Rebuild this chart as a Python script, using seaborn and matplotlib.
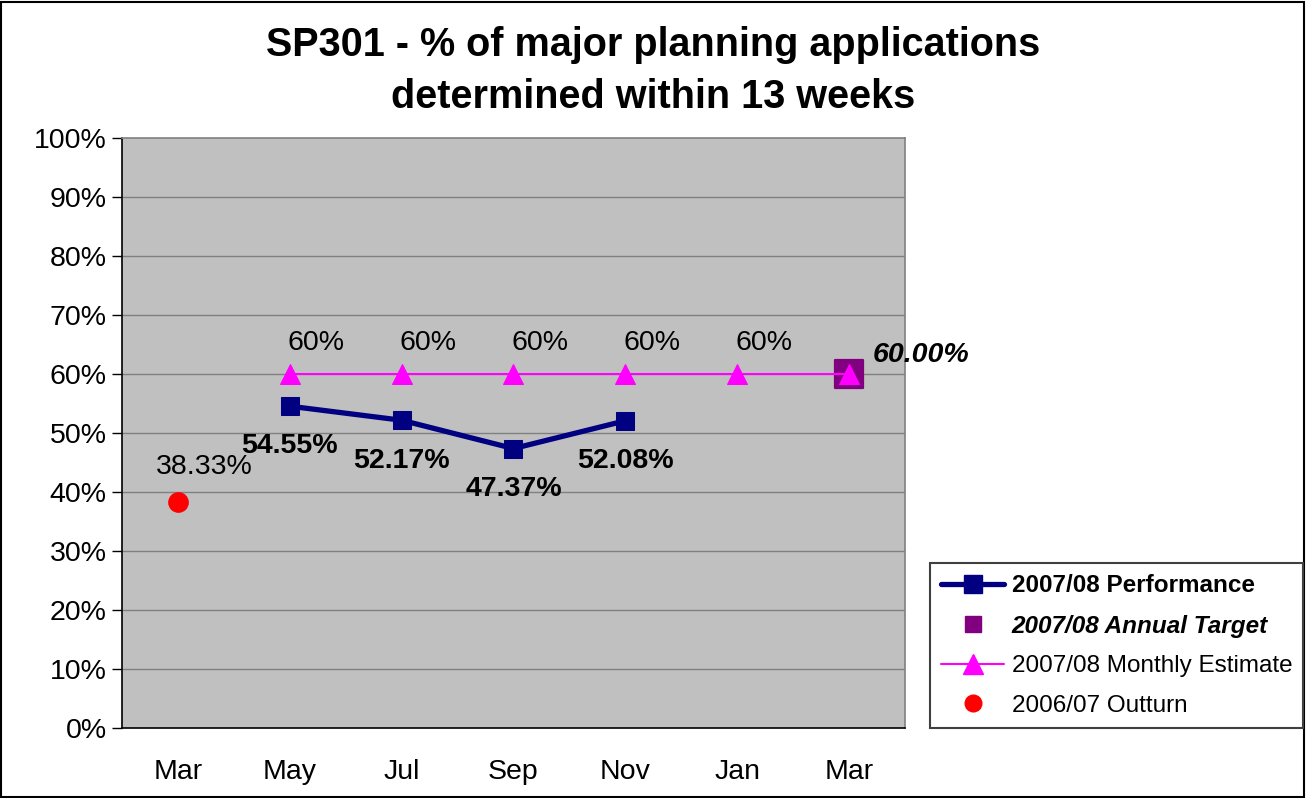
import numpy as np
import pandas as pd
import matplotlib
matplotlib.use("Agg")
import matplotlib.pyplot as plt
from matplotlib.patches import Rectangle
from matplotlib.lines import Line2D
import seaborn as sns

# chart data
months = ["Mar", "May", "Jul", "Sep", "Nov", "Jan", "Mar"]
performance = [np.nan, 54.55, 52.17, 47.37, 52.08, np.nan, np.nan]
monthly_estimate = [np.nan, 60, 60, 60, 60, 60, 60]
annual_target = [np.nan, np.nan, np.nan, np.nan, np.nan, np.nan, 60.00]
outturn = [38.33, np.nan, np.nan, np.nan, np.nan, np.nan, np.nan]

df = pd.DataFrame({
    "pos": range(len(months)),
    "month": months,
    "performance": performance,
    "estimate": monthly_estimate,
    "target": annual_target,
    "outturn": outturn,
})

sns.set_style("white", {"axes.facecolor": "#C0C0C0", "text.color": "black",
                        "xtick.color": "black", "ytick.color": "black"})
plt.rcParams["font.family"] = ["Liberation Sans", "DejaVu Sans"]

fig = plt.figure(figsize=(13.07, 7.98), dpi=100)
ax = fig.add_axes([0.0933, 0.0877, 0.5991, 0.7393])

# horizontal gridlines
for v in range(10, 100, 10):
    ax.axhline(v, color="#808080", lw=1, zorder=1)

sns.scatterplot(data=df, x="pos", y="outturn", ax=ax, color="red", marker="o",
                s=190, edgecolor="red", zorder=3)
sns.scatterplot(data=df, x="pos", y="target", ax=ax, color="#800080", marker="s",
                s=400, edgecolor="#800080", zorder=3)
sns.lineplot(data=df, x="pos", y="estimate", ax=ax, color="#FF00FF", lw=1.5,
             marker="^", markersize=15, markeredgecolor="#FF00FF", zorder=4)
sns.lineplot(data=df, x="pos", y="performance", ax=ax, color="#000080", lw=3.8,
             marker="s", markersize=13, markeredgecolor="#000080", zorder=5)

# data labels
lbl = dict(textcoords="offset points", fontsize=20.5, va="center", color="black")
for i, v in enumerate(monthly_estimate[:-1]):
    if not np.isnan(v):
        ax.annotate(f"{v:.0f}%", (i, v), xytext=(19, 22), ha="center", **lbl)
for i, v in enumerate(performance):
    if not np.isnan(v):
        ax.annotate(f"{v:.2f}%", (i, v), xytext=(0, -29), ha="center",
                    fontweight="bold", **lbl)
ax.annotate(f"{outturn[0]:.2f}%", (0, outturn[0]), xytext=(19, 25), ha="center", **lbl)
ax.annotate(f"{annual_target[6]:.2f}%", (6, annual_target[6]), xytext=(17, 14),
            ha="left", fontweight="bold", fontstyle="italic", annotation_clip=False, **lbl)

ax.set_xlim(-0.5, 6.5)
ax.set_ylim(0, 100)
ax.set_yticks(range(0, 101, 10))
ax.set_yticklabels([f"{v}%" for v in range(0, 101, 10)], fontsize=20.5)
ax.set_xticks(range(len(months)))
ax.set_xticklabels(months, fontsize=20.5)
ax.set_xticks(np.arange(-0.5, 7, 1), minor=True)
ax.tick_params(axis="x", which="major", length=0, pad=22)
ax.tick_params(axis="x", which="minor", length=8, width=1, color="black", direction="out")
ax.tick_params(axis="y", length=7, width=1, color="black", direction="out", left=True, pad=4)
ax.set_xlabel("")
ax.set_ylabel("")

for side in ["left", "bottom"]:
    ax.spines[side].set_color("black")
    ax.spines[side].set_linewidth(1.2)
for side in ["top", "right"]:
    ax.spines[side].set_color("#808080")
    ax.spines[side].set_linewidth(1.2)

fig.suptitle("SP301 - % of major planning applications\ndetermined within 13 weeks",
             fontsize=28.5, fontweight="bold", y=0.967, x=0.5, linespacing=1.45,
             color="black")

handles = [
    Line2D([], [], color="#000080", lw=3.8, marker="s", markersize=13),
    Line2D([], [], color="none", marker="s", markersize=11,
           markerfacecolor="#800080", markeredgecolor="#800080"),
    Line2D([], [], color="#FF00FF", lw=1.5, marker="^", markersize=15),
    Line2D([], [], color="none", marker="o", markersize=12,
           markerfacecolor="red", markeredgecolor="red"),
]
labels = ["2007/08 Performance", "2007/08 Annual Target",
          "2007/08 Monthly Estimate", "2006/07 Outturn"]
leg = fig.legend(handles, labels, loc="lower right", bbox_to_anchor=(0.997, 0.088),
                 fontsize=17.5, frameon=True, fancybox=False, edgecolor="#404040",
                 facecolor="white", framealpha=1, borderaxespad=0,
                 handlelength=2.6, labelspacing=0.72, borderpad=0.45, handletextpad=0.3)
leg.get_frame().set_linewidth(1.5)
texts = leg.get_texts()
for t in texts:
    t.set_color("black")
texts[0].set_fontweight("bold")
texts[1].set_fontweight("bold")
texts[1].set_fontstyle("italic")

fig.patches.append(Rectangle((0.001, 0.001), 0.997, 0.997, transform=fig.transFigure,
                             fill=False, edgecolor="black", lw=1.5))

fig.savefig("out.png", dpi=100)
